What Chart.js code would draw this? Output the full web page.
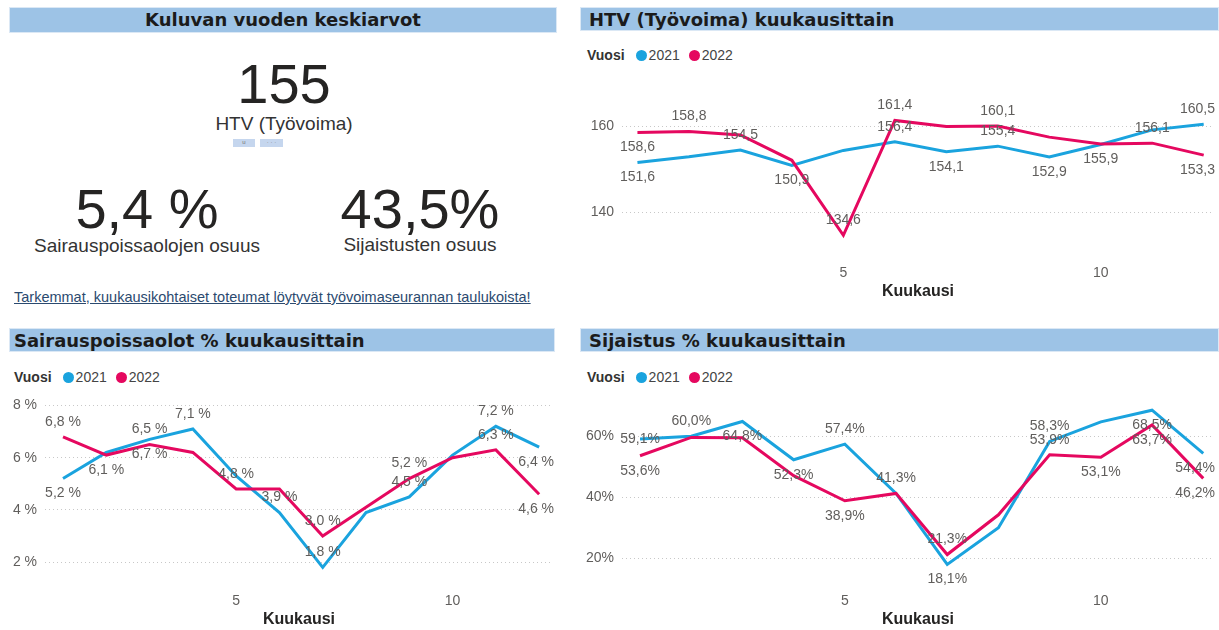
<!DOCTYPE html>
<html lang="fi">
<head>
<meta charset="utf-8">
<script src="https://cdn.jsdelivr.net/npm/chart.js@4.4.1/dist/chart.umd.min.js"></script>
<style>
  body { margin: 0; width: 1219px; height: 630px; overflow: hidden; background: #fff;
         font-family: "Liberation Sans", Arial, sans-serif; color: #252423; position: relative; }
  .bar { position: absolute; height: 24px; background: #9dc3e6; border: 1px solid #dbe8f5;
         font-family: "DejaVu Sans", sans-serif; font-weight: bold; font-size: 18px; line-height: 24px; color: #1b1b1b; }
  .big { position: absolute; font-size: 56px; color: #252423; text-align: center; line-height: 1; }
  .sub { position: absolute; font-size: 19px; color: #333; text-align: center; line-height: 1; }
  .legend { position: absolute; font-size: 14px; color: #444; display: flex; align-items: center; height: 16px; }
  .legend b { color: #333; margin-right: 11px; }
  .legend .dot { width: 11px; height: 11px; border-radius: 50%; display: inline-block; margin: 0 2px 0 0; }
  .legend .item { display: flex; align-items: center; margin-right: 9px; }
  .box { position: absolute; }
  .tag { position: absolute; height: 8px; background: #c5d6ee; font-size: 6px; color: #777; text-align: center; line-height: 7px; }
  a { position: absolute; font-size: 14.5px; color: #2b4a6f; text-decoration: underline; }
</style>
</head>
<body>

<div class="bar" style="left:9px; top:7px; width:546px; text-align:center;">Kuluvan vuoden keskiarvot</div>
<div class="bar" style="left:580px; top:7px; width:639px; padding-left:8px; box-sizing:border-box;">HTV (Työvoima) kuukausittain</div>
<div class="bar" style="left:9px; top:328px; width:546px; padding-left:4px; box-sizing:border-box;">Sairauspoissaolot % kuukausittain</div>
<div class="bar" style="left:580px; top:328px; width:639px; padding-left:8px; box-sizing:border-box;">Sijaistus % kuukausittain</div>

<div class="big" id="kpiHtv" style="left:184px; top:56px; width:200px;"></div>
<div class="sub" style="left:134px; top:114px; width:300px;">HTV (Työvoima)</div>
<div class="tag" style="left:233px; top:139px; width:22px;">u</div>
<div class="tag" style="left:260px; top:139px; width:23px;">· · ·</div>
<div class="big" id="kpiSairaus" style="left:17px; top:181px; width:260px;"></div>
<div class="sub" style="left:0px; top:236px; width:294px;">Sairauspoissaolojen osuus</div>
<div class="big" id="kpiSijaistus" style="left:290px; top:181px; width:260px;"></div>
<div class="sub" style="left:270px; top:235px; width:300px;">Sijaistusten osuus</div>
<a style="left:14px; top:289px;">Tarkemmat, kuukausikohtaiset toteumat löytyvät työvoimaseurannan taulukoista!</a>

<div class="legend" id="legHtv" style="left:587px; top:47px;"></div>
<div class="legend" id="legSairaus" style="left:14px; top:369px;"></div>
<div class="legend" id="legSijaistus" style="left:587px; top:369px;"></div>

<div class="box" style="left:580px; top:80px; width:639px; height:222px;"><canvas id="chartHtv"></canvas></div>
<div class="box" style="left:5px; top:385px; width:553px; height:245px;"><canvas id="chartSairaus"></canvas></div>
<div class="box" style="left:580px; top:385px; width:639px; height:245px;"><canvas id="chartSijaistus"></canvas></div>

<script>
// kuukaudet ja vuodet
const months = [1, 2, 3, 4, 5, 6, 7, 8, 9, 10, 11, 12];
const years = ['2021', '2022'];
const xTicks = [5, 10];

// KPI-kortit
const kpiHtv = '155';
const kpiSairaus = '5,4 %';
const kpiSijaistus = '43,5%';

// HTV (Työvoima)
const htv2021 = [151.6, 152.9, 154.5, 150.9, 154.4, 156.4, 154.1, 155.4, 152.9, 155.8, 159.2, 160.5];
const htv2022 = [158.6, 158.8, 158.0, 152.1, 134.6, 161.4, 160.0, 160.1, 157.5, 155.9, 156.1, 153.3];
const htvTicks = [140, 160];

// Sairauspoissaolot %
const sairaus2021 = [5.2, 6.2, 6.7, 7.1, 5.3, 3.9, 1.8, 3.9, 4.5, 6.1, 7.2, 6.4];
const sairaus2022 = [6.8, 6.1, 6.5, 6.2, 4.8, 4.8, 3.0, 4.1, 5.2, 6.0, 6.3, 4.6];
const sairausTicks = [2, 4, 6, 8];

// Sijaistus %
const sijaistus2021 = [59.1, 60.0, 64.8, 52.3, 57.4, 41.3, 18.1, 30.1, 58.3, 64.7, 68.5, 54.4];
const sijaistus2022 = [53.6, 59.6, 59.5, 47.1, 38.9, 41.3, 21.3, 34.3, 53.9, 53.1, 63.7, 46.2];
const sijaistusTicks = [20, 40, 60];

// arvolappujen paikat: a = yläpuolella, b = alapuolella, c = päällä
const htvPlaces = [
  ['b', '', 'a', 'b', '', 'a', 'b', 'a', 'b', '', '', 'a'],
  ['b', 'a', '', '', 'a', 'a', '', 'a', '', 'b', 'a', 'b']
];
const sairausPlaces = [
  ['b', '', 'b', 'a', '', 'a', 'a', '', 'a', '', 'a', 'b'],
  ['a', 'b', 'a', '', 'a', '', 'a', '', 'a', '', 'a', 'b']
];
const sijaistusPlaces = [
  ['c', 'a', 'b', 'b', 'a', 'a', 'b', '', 'a', '', 'b', 'b'],
  ['b', '', '', '', 'b', '', 'a', '', 'a', 'b', 'b', 'b']
];

const colors = ['#1aa3de', '#e5085f'];
const FONT = '"Liberation Sans", Arial, sans-serif';

document.getElementById('kpiHtv').textContent = kpiHtv;
document.getElementById('kpiSairaus').textContent = kpiSairaus;
document.getElementById('kpiSijaistus').textContent = kpiSijaistus;

['legHtv', 'legSairaus', 'legSijaistus'].forEach(id => {
  const el = document.getElementById(id);
  el.innerHTML = '<b>Vuosi</b>' + years.map((y, i) =>
    '<span class="item"><span class="dot" style="background:' + colors[i] + '"></span>' + y + '</span>').join('');
});

const pointLabels = {
  id: 'pointLabels',
  afterDatasetsDraw(chart, args, opts) {
    const ctx = chart.ctx;
    ctx.save();
    ctx.font = '14px ' + FONT;
    ctx.fillStyle = '#605e5c';
    ctx.textAlign = 'center';
    ctx.textBaseline = 'middle';
    chart.data.datasets.forEach((ds, i) => {
      const meta = chart.getDatasetMeta(i);
      meta.data.forEach((pt, j) => {
        const p = opts.places[i][j];
        if (!p) return;
        const txt = opts.format(ds.data[j].y);
        const w = ctx.measureText(txt).width;
        const x = Math.min(pt.x, chart.width - w / 2 - 4);
        const dy = p === 'a' ? -15 : p === 'b' ? 15 : 0;
        ctx.fillText(txt, x, pt.y + dy);
      });
    });
    ctx.restore();
  }
};

function fi(v, suffix) {
  return v.toFixed(1).replace('.', ',') + suffix;
}

function lineChart(id, series, cfg) {
  const ctx = document.getElementById(id).getContext('2d');
  new Chart(ctx, {
    type: 'line',
    data: {
      datasets: series.map((vals, i) => ({
        label: years[i],
        data: months.map((m, k) => ({ x: m, y: vals[k] })),
        borderColor: colors[i],
        backgroundColor: colors[i],
        borderWidth: 3,
        pointRadius: 0,
        tension: 0,
        order: 2 - i
      }))
    },
    options: {
      responsive: true,
      maintainAspectRatio: false,
      animation: false,
      layout: { padding: { top: cfg.padTop, right: cfg.padRight, left: 0, bottom: 0 } },
      plugins: {
        legend: { display: false },
        tooltip: { enabled: false },
        pointLabels: { places: cfg.places, format: cfg.format }
      },
      scales: {
        x: {
          type: 'linear',
          min: cfg.xMin,
          max: cfg.xMax,
          grid: { display: false, drawTicks: false },
          border: { display: false },
          afterBuildTicks: s => { s.ticks = xTicks.map(v => ({ value: v })); },
          afterFit: s => { s.height = 47; s.paddingLeft = 0; s.paddingRight = 0; },
          ticks: { color: '#605e5c', font: { family: FONT, size: 14 }, padding: 10 },
          title: { display: true, text: 'Kuukausi', color: '#252423',
                   font: { family: FONT, size: 16, weight: 'bold' }, padding: { top: 0, bottom: 1 } }
        },
        y: {
          min: cfg.yMin,
          max: cfg.yMax,
          grid: { color: '#c8c8c8', drawTicks: false, lineWidth: 1 },
          border: { display: false, dash: [1, 3] },
          afterBuildTicks: s => { s.ticks = cfg.yTicks.map(v => ({ value: v })); },
          afterFit: s => { s.width = cfg.yWidth; s.paddingTop = 0; s.paddingBottom = 0; },
          ticks: { color: '#605e5c', font: { family: FONT, size: 14 }, padding: 8,
                   callback: v => v + cfg.tickSuffix }
        }
      }
    },
    plugins: [pointLabels]
  });
}

lineChart('chartHtv', [htv2021, htv2022], {
  xMin: 0.7, xMax: 12.2, yMin: 130, yMax: 168.5, yTicks: htvTicks, yWidth: 42,
  padTop: 10, padRight: 5, tickSuffix: '', places: htvPlaces, format: v => fi(v, '')
});

lineChart('chartSairaus', [sairaus2021, sairaus2022], {
  xMin: 0.584, xMax: 12.32, yMin: 1.2, yMax: 8.4, yTicks: sairausTicks, yWidth: 40,
  padTop: 10, padRight: 5, tickSuffix: ' %', places: sairausPlaces, format: v => fi(v, ' %')
});

lineChart('chartSijaistus', [sijaistus2021, sijaistus2022], {
  xMin: 0.648, xMax: 12.21, yMin: 12, yMax: 72, yTicks: sijaistusTicks, yWidth: 42,
  padTop: 14.5, padRight: 5, tickSuffix: '%', places: sijaistusPlaces, format: v => fi(v, '%')
});
</script>
</body>
</html>
